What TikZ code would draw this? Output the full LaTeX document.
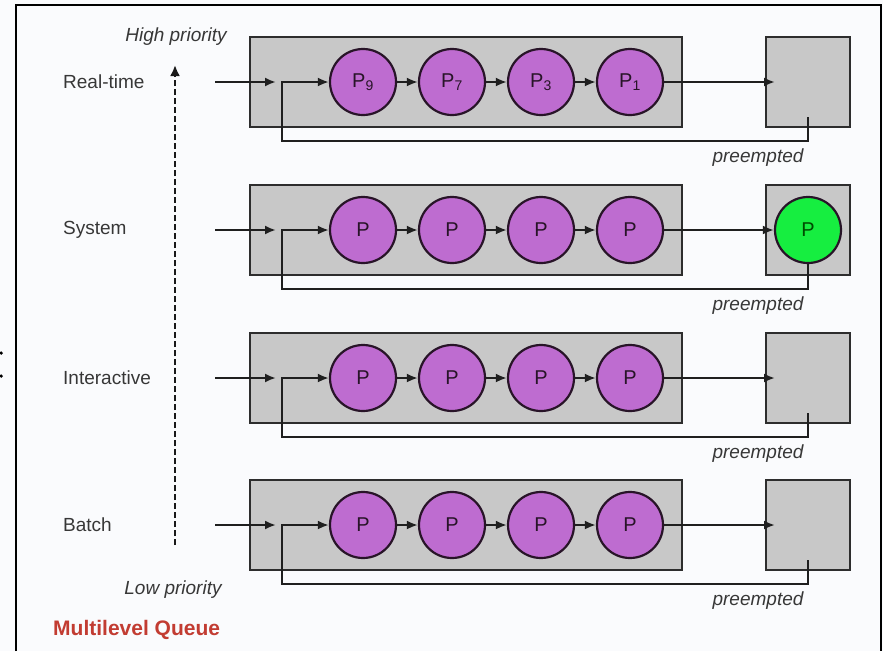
\documentclass[tikz,border=0pt]{standalone}
\usepackage{fontspec}
\setmainfont{Liberation Sans}
\usetikzlibrary{arrows.meta}
\definecolor{boxgray}{RGB}{200,200,200}
\definecolor{procpurple}{RGB}{190,108,208}
\definecolor{procgreen}{RGB}{22,238,64}
\definecolor{titlered}{RGB}{194,60,50}
\definecolor{boxedge}{RGB}{45,45,45}
\definecolor{circedge}{RGB}{40,20,40}
\definecolor{labgray}{RGB}{55,55,55}
\definecolor{bgtint}{RGB}{250,251,253}
\begin{document}
\begin{tikzpicture}[x=1pt,y=-1pt,
  qbox/.style={draw=boxedge, line width=2.6pt, fill=boxgray, inner sep=0pt,
    minimum width=432pt, minimum height=90pt},
  cpubox/.style={draw=boxedge, line width=2.6pt, fill=boxgray, inner sep=0pt,
    minimum width=84pt, minimum height=90pt},
  proc/.style={circle, draw=circedge, line width=2.2pt, fill=procpurple,
    minimum size=66pt, inner sep=0pt, text=circedge,
    font=\fontsize{20}{22}\selectfont},
  runproc/.style={proc, fill=procgreen, text=black!70!green},
  conn/.style={-{Latex[length=11pt,width=9pt]}, line width=2.4pt, draw=black!88, line join=miter},
  rowlabel/.style={anchor=west, text=labgray, font=\fontsize{19}{21}\selectfont, inner sep=0pt},
  itlabel/.style={text=labgray, font=\fontsize{19}{21}\selectfont\itshape, inner sep=0pt},
  titletext/.style={anchor=west, text=titlered, font=\fontsize{21}{24}\selectfont\bfseries, inner sep=0pt},
  prioarrow/.style={-{Latex[length=11pt,width=10pt]}, line width=2.4pt, dash pattern=on 6pt off 3pt, draw=black!90}
]
\fill[bgtint] (0,0) rectangle (883,651);
\useasboundingbox (0,0) rectangle (883,651);

% window frame
\draw[line width=2.4pt] (16,651) -- (16,5) -- (881,5) -- (881,651);
\fill (1.2,353) circle (1.8pt);
\fill (1.2,376) circle (1.8pt);

% priority axis
\node[itlabel] (high) at (176,37) {High priority};
\node[itlabel] (low) at (173,590) {Low priority};
\coordinate (dlow) at (175,545);
\coordinate (dhigh) at (175,65);
\draw[prioarrow] (dlow) -- (dhigh);

\node[titletext] (title) at (53,630) {Multilevel Queue};

\foreach \y/\n/\lab/\pa/\pb/\pc/\pd in {
  82/1/Real-time/{P\textsubscript{9}}/{P\textsubscript{7}}/{P\textsubscript{3}}/{P\textsubscript{1}},
  230/2/System/P/P/P/P,
  378/3/Interactive/P/P/P/P,
  525/4/Batch/P/P/P/P}{
  \node[rowlabel] (lab\n) at (63,\y) {\lab};
  \node[qbox] (q\n) at (466,\y) {};
  \node[cpubox] (cpu\n) at (808,\y) {};
  \node[proc] (c\n-1) at (363,\y) {\pa};
  \node[proc] (c\n-2) at (452,\y) {\pb};
  \node[proc] (c\n-3) at (541,\y) {\pc};
  \node[proc] (c\n-4) at (630,\y) {\pd};
  \draw[conn] (c\n-1) -- (c\n-2);
  \draw[conn] (c\n-2) -- (c\n-3);
  \draw[conn] (c\n-3) -- (c\n-4);
  \coordinate (in\n) at (215,\y);
  \coordinate (ent\n) at (276,\y);
  \draw[conn] (in\n) -- (ent\n);
  \coordinate (bend\n) at (282,\y+59);
  \node[itlabel] (pre\n) at (758,\y+76) {preempted};
}

% dispatch and preemption paths
\node[runproc] (run2) at (808,230) {P};
\foreach \n/\y in {1/82,3/378,4/525}{
  \coordinate (tip\n) at (775,\y);
  \coordinate (out\n) at (808,\y+35);
  \draw[conn] (c\n-4) -- (tip\n);
  \draw[conn] (out\n) |- (bend\n) -- (bend\n |- c\n-1) -- (c\n-1.west);
}
\draw[conn] (c2-4) -- (run2);
\draw[conn] (run2.south) |- (bend2) -- (bend2 |- c2-1) -- (c2-1.west);
\end{tikzpicture}
\end{document}
